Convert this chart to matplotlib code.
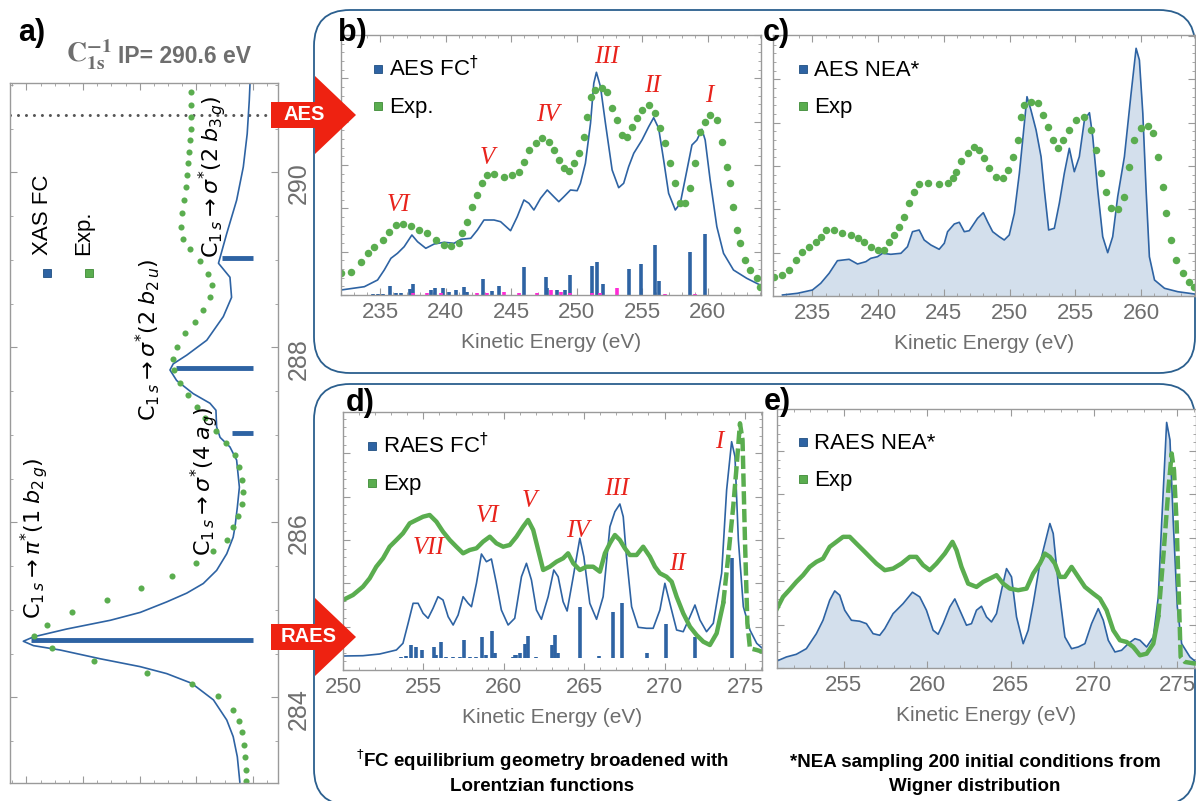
import matplotlib
matplotlib.use('Agg')
import matplotlib.pyplot as plt
import matplotlib.patches as mpatches
from matplotlib.lines import Line2D
from matplotlib.ticker import MultipleLocator

plt.rcParams['font.family'] = ['Liberation Sans', 'DejaVu Sans']

W, H = 1196, 801
BLUE = '#2e63a3'
GREEN = '#5aad4f'
RED = '#e8231c'
GRAY = '#6e6e6e'
FRAME = '#9a9a9a'
FILL = '#d3dfec'
BOX = '#2b5f8e'

# ---------------- panel a: XAS ----------------
xas_fc_energy = [283.03, 283.32, 283.55, 283.74, 283.97, 284.16, 284.27, 284.35, 284.44, 284.54,
                 284.59, 284.64, 284.69, 284.78, 284.88, 284.97, 285.09, 285.19, 285.30, 285.45,
                 285.64, 285.83, 285.95, 286.17, 286.40, 286.71, 286.86, 286.97, 287.09, 287.28,
                 287.36, 287.47, 287.62, 287.74, 287.81, 287.91, 288.08, 288.35, 288.57, 288.80,
                 288.96, 289.30, 289.68, 290.06, 290.44, 290.82, 291.00]
xas_fc_intensity = [0.057, 0.068, 0.086, 0.114, 0.172, 0.267, 0.375, 0.491, 0.665, 0.839,
                    0.955, 0.999, 0.955, 0.810, 0.620, 0.490, 0.375, 0.288, 0.216, 0.158,
                    0.114, 0.086, 0.078, 0.068, 0.059, 0.071, 0.100, 0.143, 0.158, 0.161,
                    0.187, 0.260, 0.332, 0.361, 0.347, 0.288, 0.201, 0.129, 0.093, 0.100,
                    0.150, 0.114, 0.071, 0.042, 0.025, 0.016, 0.013]
xas_exp_energy = [283.04, 283.17, 283.32, 283.45, 283.60, 283.73, 283.86, 284.01, 284.15, 284.28,
                  284.41, 284.56, 284.70, 284.83, 284.97, 285.11, 285.25, 285.39, 285.53, 285.67,
                  285.80, 285.95, 286.07, 286.21, 286.35, 286.48, 286.63, 286.77, 286.91, 287.04,
                  287.19, 287.32, 287.46, 287.59, 287.74, 287.87, 288.00, 288.16, 288.29, 288.42,
                  288.57, 288.71, 288.84, 288.98, 289.12, 289.24, 289.37, 289.53, 289.68, 289.83,
                  289.97, 290.10, 290.23, 290.37, 290.50, 290.63, 290.77, 290.92]
xas_exp_intensity = [0.032, 0.032, 0.035, 0.038, 0.046, 0.059, 0.088, 0.151, 0.267, 0.462,
                     0.691, 0.875, 0.951, 0.897, 0.788, 0.636, 0.488, 0.354, 0.248, 0.172,
                     0.114, 0.086, 0.064, 0.049, 0.045, 0.049, 0.059, 0.078, 0.117, 0.161,
                     0.209, 0.245, 0.284, 0.317, 0.343, 0.347, 0.332, 0.296, 0.252, 0.216,
                     0.187, 0.177, 0.194, 0.230, 0.274, 0.306, 0.314, 0.309, 0.300, 0.293,
                     0.287, 0.281, 0.278, 0.274, 0.271, 0.270, 0.270, 0.270]
xas_stick_energy = [284.65, 287.02, 287.76, 289.02]
xas_stick_intensity = [0.965, 0.091, 0.335, 0.135]
xas_labels = [r'$\mathrm{C}_{1\,s}\rightarrow\pi^{*}(1\;b_{2\,g})$',
              r'$\mathrm{C}_{1\,s}\rightarrow\sigma^{*}(4\;a_{g})$',
              r'$\mathrm{C}_{1\,s}\rightarrow\sigma^{*}(2\;b_{2\,u})$',
              r'$\mathrm{C}_{1\,s}\rightarrow\sigma^{*}(2\;b_{3\,g})$']
ip_energy = 290.65

# ---------------- panel b: AES FC ----------------
aes_fc_energy = [232.0, 233.78, 234.79, 235.30, 235.81, 236.31, 236.82, 237.41, 237.84, 238.47,
                 239.11, 239.87, 240.63, 241.14, 241.90, 242.41, 242.91, 243.68, 244.18, 244.94,
                 245.45, 245.96, 246.34, 246.72, 247.23, 247.74, 248.24, 248.62, 249.01, 249.51,
                 250.02, 250.27, 250.65, 251.04, 251.29, 251.49, 251.80, 252.18, 252.69, 253.19,
                 253.57, 253.95, 254.34, 254.97, 255.48, 255.86, 256.24, 256.62, 257.00, 257.51,
                 257.89, 258.40, 258.78, 259.16, 259.54, 259.79, 260.17, 260.68, 261.19, 261.95,
                 262.96, 263.98]
aes_fc_intensity = [0.05, 0.083, 0.15, 0.25, 0.367, 0.417, 0.483, 0.60, 0.533, 0.467,
                    0.51, 0.527, 0.517, 0.557, 0.567, 0.65, 0.75, 0.75, 0.733, 0.643,
                    0.783, 0.95, 0.917, 0.85, 0.967, 1.05, 0.983, 0.933, 0.983, 1.05,
                    1.043, 1.117, 1.317, 1.717, 2.117, 2.227, 2.083, 1.717, 1.25, 1.073,
                    1.117, 1.283, 1.417, 1.55, 1.683, 1.773, 1.667, 1.35, 1.017, 0.85,
                    0.917, 1.25, 1.5, 1.55, 1.657, 1.55, 1.15, 0.683, 0.417, 0.25,
                    0.167, 0.10]
aes_stick_energy = [234.41, 234.79, 235.17, 235.76, 236.19, 236.57, 237.28, 237.46, 238.85, 239.16,
                    239.82, 240.25, 240.76, 241.39, 241.64, 242.86, 243.55, 244.06, 245.96, 247.61,
                    247.74, 248.50, 249.13, 249.51, 251.16, 251.54, 252.00, 254.00, 254.92, 255.93,
                    256.29, 258.65, 259.79]
aes_stick_height = [0.01, 0.01, 0.01, 0.09, 0.023, 0.017, 0.057, 0.11, 0.05, 0.067,
                    0.067, 0.033, 0.05, 0.077, 0.033, 0.16, 0.043, 0.093, 0.277, 0.183,
                    0.067, 0.05, 0.05, 0.197, 0.29, 0.327, 0.11, 0.26, 0.307, 0.50,
                    0.143, 0.427, 0.613]
aes_minor_energy = [237.46, 238.60, 239.61, 242.41, 243.17, 244.44, 245.58, 246.97, 247.99, 248.75,
                    249.51, 251.16, 251.80, 253.07, 256.75, 259.03]
aes_minor_height = [0.017, 0.017, 0.017, 0.023, 0.017, 0.033, 0.017, 0.017, 0.05, 0.033,
                    0.023, 0.023, 0.023, 0.067, 0.01, 0.01]
aes_exp_b_energy = [232.0, 232.76, 233.52, 234.03, 234.54, 235.17, 235.68, 236.19, 236.70, 237.33,
                    237.96, 238.60, 239.23, 239.87, 240.38, 241.01, 241.26, 241.64, 242.03, 242.41,
                    242.79, 243.17, 243.68, 244.44, 245.07, 245.58, 245.96, 246.34, 246.85, 247.36,
                    247.86, 248.24, 248.62, 249.01, 249.39, 249.77, 250.15, 250.53, 250.78, 251.04,
                    251.42, 251.92, 252.30, 252.69, 253.07, 253.45, 253.83, 254.21, 254.59, 254.97,
                    255.48, 255.98, 256.37, 256.75, 257.13, 257.51, 257.89, 258.27, 258.65, 259.03,
                    259.41, 259.79, 260.17, 260.68, 261.06, 261.44, 261.70, 261.95, 262.20, 262.46,
                    262.84, 263.22, 263.73, 264.0]
aes_exp_b_intensity = [0.217, 0.233, 0.333, 0.417, 0.477, 0.55, 0.633, 0.70, 0.71, 0.69,
                       0.65, 0.617, 0.55, 0.50, 0.49, 0.523, 0.617, 0.733, 0.883, 1.0,
                       1.117, 1.20, 1.207, 1.183, 1.20, 1.233, 1.333, 1.45, 1.517, 1.567,
                       1.533, 1.45, 1.35, 1.267, 1.243, 1.317, 1.417, 1.583, 1.783, 1.983,
                       2.05, 2.067, 2.033, 1.867, 1.75, 1.60, 1.583, 1.683, 1.767, 1.85,
                       1.90, 1.823, 1.667, 1.517, 1.317, 1.117, 0.917, 0.917, 1.067, 1.317,
                       1.633, 1.733, 1.80, 1.75, 1.533, 1.283, 1.117, 0.883, 0.65, 0.517,
                       0.35, 0.25, 0.167, 0.083]
aes_fc_numerals = ['VI', 'V', 'IV', 'III', 'II', 'I']
aes_fc_numeral_energy = [236.4, 243.2, 247.8, 252.3, 255.8, 260.1]
aes_fc_numeral_height = [0.90, 1.37, 1.80, 2.38, 2.09, 1.99]

# ---------------- panel c: AES NEA ----------------
aes_nea_energy = [232.72, 233.86, 235.0, 235.63, 236.27, 236.90, 237.79, 238.43, 239.06, 239.44,
                  239.95, 240.33, 240.96, 241.73, 242.23, 242.61, 243.12, 243.50, 244.01, 244.64,
                  245.03, 245.28, 245.79, 246.17, 246.55, 246.93, 247.56, 248.0, 248.32, 248.71,
                  249.21, 249.59, 249.97, 250.36, 250.74, 251.12, 251.32, 251.62, 252.01, 252.39,
                  252.64, 252.97, 253.40, 253.78, 254.16, 254.54, 254.92, 255.30, 255.69, 256.07,
                  256.32, 256.70, 257.08, 257.46, 257.84, 258.22, 258.73, 259.24, 259.62, 259.87,
                  260.13, 260.38, 260.63, 261.02, 261.78, 262.79, 264.06]
aes_nea_intensity = [0.01, 0.027, 0.06, 0.127, 0.227, 0.353, 0.367, 0.32, 0.343, 0.377,
                     0.393, 0.427, 0.417, 0.427, 0.493, 0.643, 0.66, 0.56, 0.51, 0.467,
                     0.527, 0.643, 0.72, 0.737, 0.643, 0.653, 0.777, 0.833, 0.743, 0.643,
                     0.593, 0.56, 0.61, 0.827, 1.227, 1.727, 1.993, 1.86, 1.66, 1.393,
                     1.06, 0.66, 0.677, 0.927, 1.227, 1.477, 1.243, 1.393, 1.76, 1.833,
                     1.593, 1.06, 0.593, 0.433, 0.593, 0.993, 1.393, 2.027, 2.477, 2.36,
                     1.827, 1.06, 0.393, 0.16, 0.077, 0.043, 0.02]
aes_exp_c_energy = [232.08, 232.72, 233.22, 233.73, 234.24, 234.75, 235.25, 235.63, 236.02, 236.65,
                    237.28, 237.92, 238.43, 238.93, 239.44, 239.95, 240.46, 240.84, 241.22, 241.60,
                    241.98, 242.36, 242.74, 243.12, 243.76, 244.64, 245.28, 245.66, 245.91, 246.29,
                    246.80, 247.31, 247.69, 248.07, 248.45, 248.96, 249.47, 249.85, 250.23, 250.61,
                    250.86, 251.12, 251.62, 252.13, 252.51, 252.89, 253.27, 253.65, 254.04, 254.54,
                    255.05, 255.69, 256.19, 256.57, 256.95, 257.34, 257.72, 258.22, 258.73, 259.11,
                    259.49, 260.0, 260.51, 260.89, 261.27, 261.65, 261.90, 262.28, 262.66, 263.17,
                    263.68, 264.0]
aes_exp_c_intensity = [0.193, 0.21, 0.26, 0.36, 0.443, 0.493, 0.543, 0.593, 0.66, 0.66,
                       0.633, 0.61, 0.577, 0.543, 0.487, 0.46, 0.46, 0.543, 0.61, 0.693,
                       0.793, 0.927, 1.043, 1.12, 1.133, 1.117, 1.133, 1.177, 1.243, 1.353,
                       1.427, 1.487, 1.46, 1.377, 1.277, 1.193, 1.177, 1.26, 1.393, 1.56,
                       1.793, 1.91, 1.943, 1.927, 1.81, 1.693, 1.56, 1.477, 1.56, 1.66,
                       1.76, 1.793, 1.66, 1.46, 1.227, 1.043, 0.877, 0.867, 0.993, 1.293,
                       1.56, 1.677, 1.70, 1.627, 1.393, 1.093, 0.827, 0.56, 0.36, 0.227,
                       0.143, 0.093]

# ---------------- panel d: RAES FC ----------------
raes_fc_energy = [250.0, 251.24, 252.28, 253.32, 253.73, 254.05, 254.36, 254.67, 254.98, 255.29,
                  255.60, 255.91, 256.22, 256.54, 256.85, 257.16, 257.47, 257.78, 257.99, 258.30,
                  258.61, 258.92, 259.23, 259.54, 259.85, 260.27, 260.68, 261.10, 261.41, 261.72,
                  262.03, 262.34, 262.76, 263.11, 263.38, 263.69, 263.94, 264.32, 264.73, 264.98,
                  265.35, 265.77, 266.18, 266.60, 266.91, 267.22, 267.43, 267.63, 267.95, 268.36,
                  268.88, 269.29, 269.71, 270.02, 270.33, 270.75, 271.16, 271.58, 271.89, 272.20,
                  272.61, 273.03, 273.55, 273.86, 274.17, 274.38, 274.59, 274.90, 275.31, 275.73,
                  276.08]
raes_fc_intensity = [0.14, 0.143, 0.16, 0.20, 0.267, 0.467, 0.667, 0.667, 0.567, 0.517,
                     0.617, 0.733, 0.70, 0.533, 0.45, 0.55, 0.733, 0.667, 0.633, 0.867,
                     1.16, 1.083, 1.11, 0.867, 0.60, 0.45, 0.517, 0.933, 1.067, 0.90,
                     0.60, 0.507, 0.733, 1.0, 0.933, 0.683, 0.59, 0.933, 1.317, 1.133,
                     0.667, 0.507, 0.733, 1.433, 1.583, 1.66, 1.533, 1.133, 0.633, 0.427,
                     0.417, 0.417, 0.60, 0.867, 0.667, 0.40, 0.383, 0.533, 0.65, 0.50,
                     0.383, 0.467, 0.967, 1.80, 2.283, 2.133, 1.30, 0.633, 0.40, 0.267,
                     0.217]
raes_stick_energy = [253.63, 253.94, 254.25, 254.56, 254.92, 255.64, 255.81, 256.08, 256.43, 256.85,
                     257.26, 257.53, 257.88, 258.30, 258.63, 258.92, 259.29, 259.44, 260.58, 260.68,
                     260.79, 261.0, 261.31, 261.51, 262.03, 263.03, 263.17, 263.40, 264.77, 265.93,
                     266.80, 267.34, 268.88, 270.08, 271.89, 274.21]
raes_stick_top = [0.133, 0.143, 0.25, 0.233, 0.20, 0.233, 0.15, 0.277, 0.133, 0.133,
                  0.133, 0.30, 0.133, 0.133, 0.333, 0.15, 0.39, 0.167, 0.133, 0.15,
                  0.15, 0.173, 0.257, 0.34, 0.133, 0.25, 0.35, 0.167, 0.633, 0.143,
                  0.583, 0.667, 0.173, 0.457, 0.333, 1.117]
raes_stick_base = 0.117
raes_exp_d_energy = [250.0, 250.62, 251.24, 251.66, 252.07, 252.49, 252.90, 253.32, 253.73, 254.15,
                     254.56, 254.98, 255.39, 255.81, 256.22, 256.64, 257.05, 257.47, 257.88, 258.30,
                     258.71, 259.13, 259.54, 259.96, 260.37, 260.79, 261.20, 261.51, 261.83, 262.14,
                     262.45, 262.86, 263.28, 263.69, 264.0, 264.32, 264.73, 265.15, 265.56, 265.98,
                     266.29, 266.60, 266.91, 267.22, 267.53, 267.84, 268.26, 268.67, 269.09, 269.40,
                     269.71, 270.12, 270.44, 270.75, 271.16, 271.58, 271.99, 272.41, 272.82, 273.24,
                     273.65, 273.96, 274.27, 274.48, 274.69, 274.85, 275.0, 275.15, 275.31, 275.73,
                     276.08]
raes_exp_d_intensity = [0.70, 0.75, 0.833, 0.917, 1.033, 1.117, 1.233, 1.30, 1.367, 1.467,
                        1.50, 1.533, 1.55, 1.483, 1.383, 1.30, 1.233, 1.167, 1.20, 1.217,
                        1.283, 1.333, 1.267, 1.233, 1.25, 1.333, 1.433, 1.50, 1.40, 1.20,
                        1.0, 1.033, 1.083, 1.117, 1.167, 1.067, 1.0, 1.033, 1.033, 0.983,
                        1.167, 1.267, 1.35, 1.30, 1.217, 1.15, 1.15, 1.233, 1.133, 1.033,
                        0.967, 0.933, 0.883, 0.733, 0.567, 0.433, 0.35, 0.283, 0.25, 0.367,
                        0.667, 1.133, 1.633, 2.033, 2.467, 2.30, 1.30, 0.467, 0.217, 0.20,
                        0.183]
raes_fc_numerals = ['VII', 'VI', 'V', 'IV', 'III', 'II', 'I']
raes_fc_numeral_energy = [255.3, 259.0, 261.6, 264.6, 267.0, 270.8, 273.4]
raes_fc_numeral_height = [1.22, 1.54, 1.69, 1.39, 1.81, 1.06, 2.28]

# ---------------- panel e: RAES NEA ----------------
raes_nea_energy = [251.0, 251.56, 252.16, 252.76, 253.36, 253.76, 254.16, 254.46, 254.76, 255.06,
                   255.46, 255.96, 256.36, 256.76, 257.16, 257.46, 257.96, 258.56, 259.12, 259.56,
                   259.96, 260.36, 260.66, 260.96, 261.36, 261.66, 261.96, 262.36, 262.66, 262.96,
                   263.26, 263.56, 263.86, 264.16, 264.46, 264.76, 265.06, 265.36, 265.76, 266.06,
                   266.36, 266.76, 267.16, 267.36, 267.56, 267.86, 268.26, 268.66, 269.06, 269.46,
                   269.86, 270.26, 270.56, 270.86, 271.26, 271.66, 272.06, 272.46, 272.76, 273.16,
                   273.56, 273.86, 274.06, 274.36, 274.56, 274.76, 275.0, 275.26, 275.76, 276.12]
raes_nea_intensity = [0.07, 0.11, 0.137, 0.193, 0.343, 0.477, 0.677, 0.77, 0.727, 0.577,
                      0.477, 0.467, 0.443, 0.343, 0.327, 0.393, 0.543, 0.643, 0.757, 0.71,
                      0.577, 0.377, 0.337, 0.443, 0.61, 0.69, 0.577, 0.427, 0.443, 0.577,
                      0.617, 0.51, 0.46, 0.543, 0.777, 0.993, 0.91, 0.51, 0.243, 0.377,
                      0.643, 1.043, 1.31, 1.443, 1.343, 0.843, 0.31, 0.193, 0.21, 0.243,
                      0.443, 0.593, 0.477, 0.277, 0.16, 0.177, 0.243, 0.293, 0.277, 0.21,
                      0.31, 0.71, 1.443, 2.453, 2.277, 1.443, 0.61, 0.243, 0.11, 0.06]
raes_exp_e_energy = [251.0, 251.36, 251.76, 252.16, 252.56, 252.96, 253.36, 253.76, 254.16, 254.56,
                     254.96, 255.36, 255.76, 256.16, 256.56, 256.96, 257.46, 257.96, 258.46, 258.96,
                     259.36, 259.76, 260.16, 260.56, 261.06, 261.52, 261.76, 262.06, 262.46, 262.96,
                     263.36, 263.76, 264.16, 264.56, 264.96, 265.46, 265.96, 266.36, 266.76, 267.06,
                     267.36, 267.66, 267.96, 268.26, 268.66, 269.06, 269.46, 269.96, 270.36, 270.76,
                     271.16, 271.56, 271.96, 272.36, 272.76, 273.16, 273.56, 273.86, 274.16, 274.46,
                     274.66, 274.80, 274.96, 275.08, 275.20, 275.46, 276.12]
raes_exp_e_intensity = [0.593, 0.71, 0.783, 0.86, 0.927, 1.01, 1.06, 1.093, 1.21, 1.26,
                        1.31, 1.31, 1.243, 1.177, 1.11, 1.043, 0.977, 0.993, 1.043, 1.11,
                        1.11, 1.027, 0.977, 1.043, 1.143, 1.26, 1.177, 1.01, 0.843, 0.81,
                        0.86, 0.893, 0.927, 0.843, 0.793, 0.777, 0.793, 0.943, 1.043, 1.143,
                        1.11, 1.043, 0.91, 0.91, 1.01, 0.91, 0.81, 0.743, 0.693, 0.577,
                        0.377, 0.277, 0.26, 0.21, 0.127, 0.143, 0.243, 0.51, 1.11, 1.777,
                        2.143, 1.977, 1.443, 0.777, 0.11, 0.06, 0.043]

fig = plt.figure(figsize=(W / 100, H / 100), dpi=100)


def px_axes(l, t, r, b):
    return fig.add_axes([l / W, 1 - b / H, (r - l) / W, (b - t) / H])


def fpos(px, py):
    return px / W, 1 - py / H


def frame(ax):
    for s in ax.spines.values():
        s.set_color(FRAME)
        s.set_linewidth(1.0)
    ax.tick_params(which='both', direction='in', top=True, right=True, color=FRAME)
    ax.tick_params(which='major', length=5, width=0.8)
    ax.tick_params(which='minor', length=2.5, width=0.6)


def style_ke(ax, xlim, ytop):
    ax.set_xlim(*xlim)
    ax.set_ylim(0, ytop)
    frame(ax)
    ax.xaxis.set_major_locator(MultipleLocator(5))
    ax.xaxis.set_minor_locator(MultipleLocator(1))
    ax.yaxis.set_major_locator(MultipleLocator(0.4333))
    ax.yaxis.set_minor_locator(MultipleLocator(0.08667))
    ax.tick_params(labelleft=False, labelsize=16, labelcolor=GRAY, pad=5)
    ax.set_xlabel('Kinetic Energy (eV)', fontsize=15, color=GRAY, labelpad=7)


def legend_entry(px, py, color, label):
    fig.add_artist(Line2D([px / W], [1 - (py - 3) / H], marker='s', ls='', ms=5.5,
                          color=color, mec='#1f4e80' if color == BLUE else '#3e8a36', mew=0.6))
    fig.text(px / W + 11 / W, 1 - (py + 4) / H, label, fontsize=16, va='baseline')


# ---------- panel a ----------
ax_a = px_axes(10, 83, 278, 783)
ax_a.set_ylim(283.02, 291.02)
ax_a.set_xlim(1.057, -0.109)
frame(ax_a)
ax_a.yaxis.set_major_locator(MultipleLocator(2))
ax_a.yaxis.set_minor_locator(MultipleLocator(0.5))
ax_a.xaxis.set_major_locator(MultipleLocator(0.2464))
ax_a.xaxis.set_minor_locator(MultipleLocator(0.0616))
ax_a.tick_params(axis='x', labelbottom=False)
ax_a.tick_params(axis='y', labelleft=False, labelright=True, labelrotation=90,
                 labelsize=18, labelcolor=GRAY, pad=6)
ax_a.axhline(ip_energy, color='#555555', lw=2.2, ls=(0, (0.01, 2.6)),
             dash_capstyle='round', xmax=0.97)
ax_a.hlines(xas_stick_energy, 0, xas_stick_intensity, color=BLUE, lw=3.5)
ax_a.plot(xas_fc_intensity, xas_fc_energy, color=BLUE, lw=1.2)
ax_a.plot(xas_exp_intensity, xas_exp_energy, 'o', color=GREEN, ms=4.4, mec='none')

for lab, (px, py) in zip(xas_labels, [(34, 538), (204, 481), (148, 340), (212, 177)]):
    fig.text(*fpos(px, py), lab, rotation=90, ha='center', va='center', fontsize=16)

fig.text(*fpos(42, 255), 'XAS FC', rotation=90, ha='center', va='bottom', fontsize=16)
fig.text(*fpos(84, 255), 'Exp.', rotation=90, ha='center', va='bottom', fontsize=16)
fig.add_artist(Line2D([47 / W], [1 - 273 / H], marker='s', ls='', ms=5.5, color=BLUE,
                      mec='#1f4e80', mew=0.6))
fig.add_artist(Line2D([89 / W], [1 - 273 / H], marker='s', ls='', ms=5.5, color=GREEN,
                      mec='#3e8a36', mew=0.6))

fig.text(*fpos(18, 41), 'a)', fontsize=22, fontweight='bold', va='baseline')
fig.text(*fpos(66, 63), r'$\mathbf{C}_{\mathbf{1s}}^{\mathbf{-1}}$', fontsize=20,
         color=GRAY, va='baseline', math_fontfamily='stix')
fig.text(*fpos(118, 63), 'IP= 290.6 eV', fontsize=16.5, fontweight='bold', color=GRAY,
         va='baseline')

# ---------- rounded boxes ----------
for (l, t, r, b) in [(314, 10, 1195, 373), (314, 384, 1195, 805)]:
    fig.add_artist(mpatches.FancyBboxPatch((l / 100, (H - b) / 100), (r - l) / 100, (b - t) / 100,
                                           boxstyle='round,pad=0,rounding_size=0.36',
                                           transform=fig.dpi_scale_trans, fill=False,
                                           edgecolor=BOX, lw=1.3, zorder=0))

# ---------- panel b ----------
ax_b = px_axes(341, 35, 761, 295)
style_ke(ax_b, (232, 264.05), 2.6)
ax_b.vlines(aes_stick_energy, 0, aes_stick_height, color=BLUE, lw=2.6)
ax_b.vlines(aes_minor_energy, 0, aes_minor_height, color='#ff2bd6', lw=2.6)
ax_b.plot(aes_fc_energy, aes_fc_intensity, color=BLUE, lw=1.2)
ax_b.plot(aes_exp_b_energy, aes_exp_b_intensity, 'o', color=GREEN, ms=5.4, mec='none')
for t, e, h in zip(aes_fc_numerals, aes_fc_numeral_energy, aes_fc_numeral_height):
    ax_b.text(e, h, t, color=RED, fontsize=18, family='Liberation Serif', style='italic',
              ha='center', va='center')
legend_entry(378, 72, BLUE, r'AES FC$^{\dagger}$')
legend_entry(378, 109, GREEN, 'Exp.')
fig.text(*fpos(338, 41), 'b)', fontsize=22, fontweight='bold', va='baseline')

# ---------- panel c ----------
ax_c = px_axes(773, 35, 1195, 296)
style_ke(ax_c, (232, 264.1), 2.61)
ax_c.fill_between(aes_nea_energy, 0, aes_nea_intensity, color=FILL, lw=0)
ax_c.plot(aes_nea_energy, aes_nea_intensity, color=BLUE, lw=1.2)
ax_c.plot(aes_exp_c_energy, aes_exp_c_intensity, 'o', color=GREEN, ms=5.4, mec='none')
legend_entry(803, 72, BLUE, 'AES NEA*')
legend_entry(803, 109, GREEN, 'Exp')
fig.text(*fpos(763, 41), 'c)', fontsize=22, fontweight='bold', va='baseline')

# ---------- panel d ----------
ax_d = px_axes(343, 412, 762, 670)
style_ke(ax_d, (250, 276.06), 2.58)
ax_d.vlines(raes_stick_energy, raes_stick_base, raes_stick_top, color=BLUE, lw=2.6)
ax_d.plot(raes_fc_energy, raes_fc_intensity, color=BLUE, lw=1.2)
split_d = 60
ax_d.plot(raes_exp_d_energy[:split_d + 1], raes_exp_d_intensity[:split_d + 1], color=GREEN, lw=3.2)
ax_d.plot(raes_exp_d_energy[split_d:], raes_exp_d_intensity[split_d:], color=GREEN, lw=3.2,
          ls=(0, (3, 1)))
for t, e, h in zip(raes_fc_numerals, raes_fc_numeral_energy, raes_fc_numeral_height):
    ax_d.text(e, h, t, color=RED, fontsize=18, family='Liberation Serif', style='italic',
              ha='center', va='center')
legend_entry(372, 449, BLUE, r'RAES FC$^{\dagger}$')
legend_entry(372, 486, GREEN, 'Exp')
fig.text(*fpos(346, 411), 'd)', fontsize=22, fontweight='bold', va='baseline')

# ---------- panel e ----------
ax_e = px_axes(777, 409, 1196, 668)
style_ke(ax_e, (251, 276.12), 2.587)
ax_e.fill_between(raes_nea_energy, 0, raes_nea_intensity, color=FILL, lw=0)
ax_e.plot(raes_nea_energy, raes_nea_intensity, color=BLUE, lw=1.2)
split_e = 57
ax_e.plot(raes_exp_e_energy[:split_e + 1], raes_exp_e_intensity[:split_e + 1], color=GREEN, lw=3.2)
ax_e.plot(raes_exp_e_energy[split_e:], raes_exp_e_intensity[split_e:], color=GREEN, lw=3.2,
          ls=(0, (3, 1)))
legend_entry(803, 445, BLUE, 'RAES NEA*')
legend_entry(803, 482, GREEN, 'Exp')
fig.text(*fpos(764, 410), 'e)', fontsize=22, fontweight='bold', va='baseline')

# ---------- footnotes ----------
fig.text(*fpos(542, 767), r'$^{\dagger}$FC equilibrium geometry broadened with',
         ha='center', va='baseline', fontsize=13.5, fontweight='bold')
fig.text(*fpos(542, 791), 'Lorentzian functions', ha='center', va='baseline',
         fontsize=13.5, fontweight='bold')
fig.text(*fpos(975, 767), '*NEA sampling 200 initial conditions from',
         ha='center', va='baseline', fontsize=13.5, fontweight='bold')
fig.text(*fpos(975, 791), 'Wigner distribution', ha='center', va='baseline',
         fontsize=13.5, fontweight='bold')

# ---------- AES / RAES arrows ----------
for name, cy, cx in [('AES', 115, 304), ('RAES', 637, 309)]:
    pts = [(271, cy - 13), (315, cy - 13), (315, cy - 39), (356, cy), (315, cy + 39),
           (315, cy + 13), (271, cy + 13)]
    fig.add_artist(mpatches.Polygon([fpos(x, y) for x, y in pts], closed=True,
                                    transform=fig.transFigure, color='#ee2211', lw=0, zorder=10))
    fig.text(*fpos(cx, cy), name, color='white', fontsize=14.5, fontweight='bold',
             ha='center', va='center', zorder=11)

fig.savefig('out.png', dpi=100)
